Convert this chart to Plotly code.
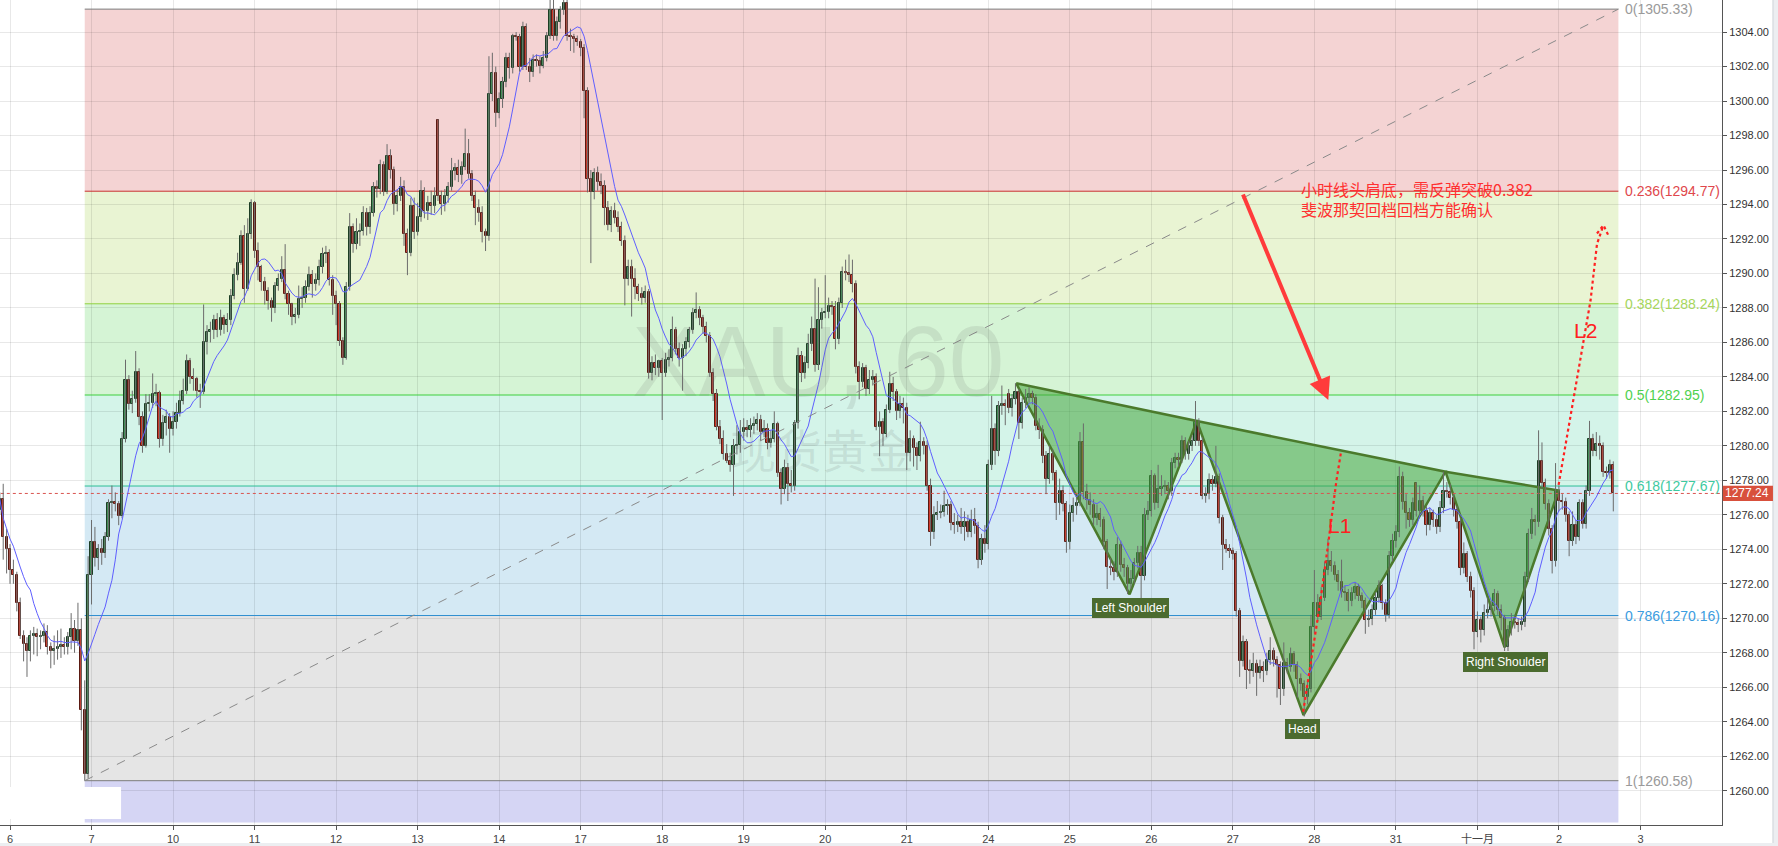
import plotly.graph_objects as go
import pandas as pd

# ---------------- data (XAU 60-minute bars) ----------------
open_ = [
1276.3, 1276.9, 1274.7, 1274.0, 1272.8, 1272.5, 1270.9, 1269.0, 1268.5, 1268.1, 1269.0, 1269.1,
1268.9, 1269.0, 1269.2, 1268.35, 1268.1, 1268.2, 1268.35, 1268.45, 1268.35, 1268.9, 1269.4, 1268.66,
1269.3, 1264.7, 1260.97, 1272.5, 1274.44, 1273.5, 1274.0, 1273.8, 1274.7, 1276.66, 1276.75, 1276.6,
1275.96, 1280.4, 1283.8, 1282.4, 1282.7, 1284.3, 1281.7, 1280.0, 1282.4, 1282.5, 1283.0, 1283.05,
1280.4, 1281.3, 1281.7, 1281.0, 1281.4, 1281.9, 1282.6, 1283.2, 1284.9, 1284.0, 1283.9, 1283.2,
1283.15, 1286.0, 1286.6, 1286.7, 1287.3, 1286.7, 1287.4, 1287.0, 1287.3, 1288.7, 1289.9, 1290.6,
1292.2, 1289.1, 1292.3, 1294.1, 1291.3, 1290.4, 1289.5, 1289.0, 1288.4, 1288.0, 1289.3, 1289.7,
1290.2, 1288.8, 1288.2, 1287.5, 1287.6, 1288.5, 1288.6, 1289.2, 1289.9, 1289.4, 1289.6, 1290.4,
1291.1, 1291.2, 1289.6, 1288.7, 1288.25, 1286.1, 1285.1, 1289.2, 1292.7, 1291.7, 1292.4, 1292.45,
1293.5, 1292.7, 1293.5, 1295.0, 1294.9, 1296.3, 1294.7, 1296.8, 1296.0, 1294.0, 1294.5, 1295.0,
1292.3, 1291.2, 1293.9, 1292.4, 1293.3, 1294.8, 1293.6, 1294.1, 1293.9, 1298.9, 1294.5, 1294.0,
1294.5, 1295.0, 1295.96, 1296.1, 1295.7, 1296.2, 1296.95, 1295.75, 1294.5, 1293.8, 1293.5, 1292.4,
1292.2, 1300.4, 1301.6, 1299.3, 1300.1, 1301.1, 1302.5, 1301.9, 1303.8, 1303.7, 1302.0, 1304.3,
1302.0, 1301.7, 1302.4, 1302.3, 1302.05, 1302.5, 1303.8, 1305.3, 1303.8, 1304.6, 1305.3, 1305.7,
1303.8, 1303.7, 1303.6, 1303.4, 1303.1, 1300.6, 1295.5, 1294.7, 1295.8, 1295.3, 1295.1, 1293.8,
1292.8, 1293.6, 1293.2, 1292.7, 1291.9, 1289.7, 1290.4, 1289.7, 1289.2, 1288.8, 1288.6, 1288.9,
1284.2, 1284.8, 1284.5, 1284.9, 1284.2, 1285.0, 1285.1, 1286.7, 1285.6, 1285.1, 1285.6, 1286.0,
1286.7, 1287.7, 1287.9, 1287.4, 1286.9, 1286.4, 1284.2, 1283.0, 1281.1, 1280.4, 1279.5, 1279.1,
1278.9, 1280.0, 1280.05, 1280.8, 1281.05, 1280.9, 1281.15, 1281.27, 1281.5, 1280.8, 1281.0, 1280.15,
1280.4, 1281.27, 1278.4, 1277.5, 1278.7, 1277.8, 1277.7, 1281.3, 1285.2, 1284.2, 1284.8, 1285.9,
1286.8, 1284.7, 1287.3, 1287.7, 1287.75, 1288.1, 1288.05, 1286.2, 1288.3, 1290.1, 1290.0, 1289.9,
1289.4, 1284.55, 1283.7, 1284.5, 1283.3, 1283.8, 1284.0, 1281.1, 1281.4, 1280.7, 1282.1, 1283.6,
1283.1, 1282.0, 1282.4, 1282.2, 1279.6, 1280.4, 1279.85, 1279.4, 1280.2, 1280.0, 1277.7, 1275.0,
1276.0, 1276.1, 1276.15, 1276.5, 1276.55, 1275.5, 1275.4, 1275.6, 1275.3, 1275.6, 1275.0, 1275.7,
1275.35, 1273.4, 1274.6, 1274.3, 1278.9, 1281.0, 1279.7, 1282.3, 1282.4, 1283.0, 1282.2, 1282.7,
1283.1, 1281.3, 1282.5, 1282.8, 1283.0, 1282.8, 1281.15, 1280.9, 1279.4, 1278.06, 1279.5, 1278.4,
1276.7, 1277.4, 1276.6, 1274.4, 1276.1, 1276.5, 1276.7, 1280.2, 1277.3, 1276.86, 1276.57, 1275.8,
1276.05, 1275.7, 1274.4, 1273.0, 1272.9, 1272.7, 1274.25, 1273.1, 1272.9, 1272.0, 1272.3, 1273.2,
1273.8, 1272.45, 1276.0, 1276.24, 1278.25, 1276.7, 1277.5, 1277.6, 1277.65, 1277.4, 1279.0, 1279.3,
1279.2, 1280.3, 1279.5, 1280.0, 1280.3, 1281.4, 1280.3, 1277.1, 1277.2, 1278.0, 1277.8, 1278.2,
1275.8, 1274.25, 1274.0, 1273.9, 1273.7, 1270.4, 1267.5, 1268.6, 1267.0, 1266.95, 1267.35, 1266.8,
1267.2, 1266.96, 1267.6, 1268.1, 1267.6, 1267.3, 1265.9, 1267.4, 1267.2, 1267.9, 1267.3, 1266.5,
1266.2, 1265.45, 1265.9, 1269.5, 1270.9, 1270.1, 1271.2, 1272.8, 1273.3, 1273.05, 1272.5, 1272.1,
1271.5, 1271.45, 1271.0, 1271.45, 1271.8, 1271.3, 1271.0, 1269.9, 1269.95, 1270.5, 1271.15, 1271.9,
1270.86, 1270.2, 1273.6, 1274.46, 1275.0, 1278.2, 1276.75, 1276.1, 1275.7, 1277.85, 1276.25, 1276.8,
1276.2, 1275.4, 1276.1, 1275.7, 1275.3, 1276.4, 1277.4, 1277.3, 1277.0, 1276.3, 1275.6, 1272.9,
1273.7, 1272.4, 1271.6, 1269.2, 1269.9, 1269.3, 1270.3, 1270.5, 1270.7, 1271.4, 1270.5, 1270.0,
1268.35, 1269.3, 1269.8, 1269.7, 1269.6, 1269.8, 1272.4, 1274.9, 1275.7, 1275.6, 1279.1, 1277.85,
1276.65, 1275.2, 1273.3, 1277.4, 1276.8, 1276.75, 1276.0, 1274.5, 1275.4, 1274.7, 1276.7, 1275.45,
1277.4, 1280.4, 1279.7, 1280.1, 1280.0, 1278.5, 1278.4, 1278.9,
]

close = [
1276.9, 1274.7, 1274.0, 1272.8, 1272.5, 1270.9, 1269.0, 1268.5, 1268.1, 1269.0, 1269.1, 1268.9,
1269.0, 1269.2, 1268.35, 1268.1, 1268.2, 1268.35, 1268.45, 1268.35, 1268.9, 1269.4, 1268.66, 1269.3,
1264.7, 1260.97, 1272.5, 1274.44, 1273.5, 1274.0, 1273.8, 1274.7, 1276.66, 1276.75, 1276.6, 1275.96,
1280.4, 1283.8, 1282.4, 1282.7, 1284.3, 1281.7, 1280.0, 1282.4, 1282.5, 1283.0, 1283.05, 1280.4,
1281.3, 1281.7, 1281.0, 1281.4, 1281.9, 1282.6, 1283.2, 1284.9, 1284.0, 1283.9, 1283.2, 1283.15,
1286.0, 1286.6, 1286.7, 1287.3, 1286.7, 1287.4, 1287.0, 1287.3, 1288.7, 1289.9, 1290.6, 1292.2,
1289.1, 1292.3, 1294.1, 1291.3, 1290.4, 1289.5, 1289.0, 1288.4, 1288.0, 1289.3, 1289.7, 1290.2,
1288.8, 1288.2, 1287.5, 1287.6, 1288.5, 1288.6, 1289.2, 1289.9, 1289.4, 1289.6, 1290.4, 1291.1,
1291.2, 1289.6, 1288.7, 1288.25, 1286.1, 1285.1, 1289.2, 1292.7, 1291.7, 1292.4, 1292.45, 1293.5,
1292.7, 1293.5, 1295.0, 1294.9, 1296.3, 1294.7, 1296.8, 1296.0, 1294.0, 1294.5, 1295.0, 1292.3,
1291.2, 1293.9, 1292.4, 1293.3, 1294.8, 1293.6, 1294.1, 1293.9, 1294.5, 1294.5, 1294.0, 1294.5,
1295.0, 1295.96, 1296.1, 1295.7, 1296.2, 1296.95, 1295.75, 1294.5, 1293.8, 1293.5, 1292.4, 1292.2,
1300.4, 1301.6, 1299.3, 1300.1, 1301.1, 1302.5, 1301.9, 1303.8, 1303.7, 1302.0, 1304.3, 1302.0,
1301.7, 1302.4, 1302.3, 1302.05, 1302.5, 1303.8, 1305.3, 1303.8, 1304.6, 1305.3, 1305.7, 1303.8,
1303.7, 1303.6, 1303.4, 1303.1, 1300.6, 1295.5, 1294.7, 1295.8, 1295.3, 1295.1, 1293.8, 1292.8,
1293.6, 1293.2, 1292.7, 1291.9, 1289.7, 1290.4, 1289.7, 1289.2, 1288.8, 1288.6, 1288.9, 1284.2,
1284.8, 1284.5, 1284.9, 1284.2, 1285.0, 1285.1, 1286.7, 1285.6, 1285.1, 1285.6, 1286.0, 1286.7,
1287.7, 1287.9, 1287.4, 1286.9, 1286.4, 1284.2, 1283.0, 1281.1, 1280.4, 1279.5, 1279.1, 1278.9,
1280.0, 1280.05, 1280.8, 1281.05, 1280.9, 1281.15, 1281.27, 1281.5, 1280.8, 1281.0, 1280.15, 1280.4,
1281.27, 1278.4, 1277.5, 1278.7, 1277.8, 1277.7, 1281.3, 1285.2, 1284.2, 1284.8, 1285.9, 1286.8,
1284.7, 1287.3, 1287.7, 1287.75, 1288.1, 1288.05, 1286.2, 1288.3, 1290.1, 1290.0, 1289.9, 1289.4,
1284.55, 1283.7, 1284.5, 1283.3, 1283.8, 1284.0, 1281.1, 1281.4, 1280.7, 1282.1, 1283.6, 1283.1,
1282.0, 1282.4, 1282.2, 1279.6, 1280.4, 1279.85, 1279.4, 1280.2, 1280.0, 1277.7, 1275.0, 1276.0,
1276.1, 1276.15, 1276.5, 1276.55, 1275.5, 1275.4, 1275.6, 1275.3, 1275.6, 1275.0, 1275.7, 1275.35,
1273.4, 1274.6, 1274.3, 1278.9, 1281.0, 1279.7, 1282.3, 1282.4, 1282.3, 1282.2, 1282.7, 1283.1,
1281.3, 1282.5, 1282.8, 1283.0, 1282.8, 1281.15, 1280.9, 1279.4, 1278.06, 1279.5, 1278.4, 1276.7,
1277.4, 1276.6, 1274.4, 1276.1, 1276.5, 1276.7, 1280.2, 1277.3, 1276.86, 1276.57, 1275.8, 1276.05,
1275.7, 1274.4, 1273.0, 1272.9, 1272.7, 1274.25, 1273.1, 1272.9, 1272.0, 1272.3, 1273.2, 1273.8,
1272.45, 1276.0, 1276.24, 1278.25, 1276.7, 1277.5, 1277.6, 1277.65, 1277.4, 1279.0, 1279.3, 1279.2,
1280.3, 1279.5, 1280.0, 1280.3, 1281.4, 1280.3, 1277.1, 1277.2, 1278.0, 1277.8, 1278.2, 1275.8,
1274.25, 1274.0, 1273.9, 1273.7, 1270.4, 1267.5, 1268.6, 1267.0, 1266.95, 1267.35, 1266.8, 1267.2,
1266.96, 1267.6, 1268.1, 1267.6, 1267.3, 1265.9, 1267.4, 1267.2, 1267.9, 1267.3, 1266.5, 1266.2,
1265.45, 1265.9, 1269.5, 1270.9, 1270.1, 1271.2, 1272.8, 1273.3, 1273.05, 1272.5, 1272.1, 1271.5,
1271.45, 1271.0, 1271.45, 1271.8, 1271.3, 1271.0, 1269.9, 1269.95, 1270.5, 1271.15, 1271.9, 1270.86,
1270.2, 1273.6, 1274.46, 1275.0, 1278.2, 1276.75, 1276.1, 1275.7, 1276.7, 1276.25, 1276.8, 1276.2,
1275.4, 1276.1, 1275.7, 1275.3, 1276.4, 1277.4, 1277.3, 1277.0, 1276.3, 1275.6, 1272.9, 1273.7,
1272.4, 1271.6, 1269.2, 1269.9, 1269.3, 1270.3, 1270.5, 1270.7, 1271.4, 1270.5, 1270.0, 1268.35,
1269.3, 1269.8, 1269.7, 1269.6, 1269.8, 1272.4, 1274.9, 1275.7, 1275.6, 1279.1, 1277.85, 1276.65,
1275.2, 1273.3, 1277.4, 1276.8, 1276.75, 1276.0, 1274.5, 1275.4, 1274.7, 1276.7, 1275.45, 1277.4,
1280.4, 1279.7, 1280.1, 1280.0, 1278.5, 1278.4, 1278.9, 1277.24,
]

high = [
1277.3, 1277.8, 1275.2, 1274.3, 1273.4, 1272.7, 1271.2, 1269.3, 1268.9, 1269.3, 1269.5, 1269.4,
1269.3, 1269.7, 1269.6, 1268.6, 1269.0, 1269.3, 1269.4, 1268.9, 1269.2, 1270.3, 1269.9, 1270.9,
1270.0, 1266.4, 1273.6, 1275.7, 1275.3, 1274.3, 1274.6, 1275.0, 1276.9, 1277.7, 1277.3, 1276.8,
1280.8, 1285.0, 1284.1, 1283.2, 1285.5, 1284.5, 1282.0, 1283.0, 1283.0, 1284.2, 1283.6, 1283.2,
1281.8, 1282.1, 1281.9, 1282.0, 1282.5, 1283.2, 1283.9, 1285.3, 1285.1, 1284.5, 1284.0, 1283.6,
1288.2, 1287.0, 1287.2, 1287.6, 1287.7, 1287.9, 1287.6, 1287.7, 1289.1, 1290.3, 1291.2, 1292.5,
1292.8, 1293.2, 1294.3, 1294.2, 1291.8, 1290.5, 1289.8, 1289.2, 1288.6, 1289.5, 1290.0, 1291.0,
1291.7, 1289.0, 1288.3, 1288.0, 1289.3, 1289.2, 1289.6, 1290.4, 1290.2, 1290.0, 1290.8, 1291.5,
1291.6, 1291.4, 1289.9, 1289.0, 1288.4, 1286.3, 1289.5, 1293.5, 1292.9, 1293.2, 1292.9, 1293.9,
1293.8, 1293.9, 1295.3, 1295.4, 1296.6, 1296.5, 1297.5, 1297.2, 1296.2, 1294.9, 1295.6, 1295.4,
1292.6, 1294.4, 1294.4, 1294.1, 1295.4, 1295.0, 1294.5, 1294.8, 1295.0, 1298.95, 1294.8, 1294.9,
1295.3, 1296.7, 1296.4, 1296.6, 1296.5, 1298.4, 1297.8, 1296.0, 1294.8, 1294.3, 1293.9, 1292.6,
1302.6, 1302.8, 1302.0, 1300.5, 1301.4, 1302.8, 1302.8, 1303.9, 1304.0, 1303.9, 1304.6, 1304.5,
1302.5, 1302.7, 1302.7, 1302.6, 1302.9, 1304.0, 1305.9, 1306.0, 1304.9, 1305.5, 1306.0, 1306.0,
1304.2, 1303.9, 1303.8, 1303.6, 1303.3, 1300.8, 1296.0, 1296.1, 1296.2, 1295.8, 1295.4, 1294.2,
1293.9, 1294.1, 1293.6, 1293.0, 1292.2, 1290.8, 1290.8, 1290.3, 1289.4, 1289.2, 1289.3, 1289.1,
1285.2, 1285.3, 1285.0, 1285.1, 1285.4, 1285.6, 1287.5, 1286.9, 1286.0, 1285.9, 1286.3, 1286.9,
1288.0, 1288.9, 1288.1, 1287.6, 1287.2, 1286.6, 1284.5, 1283.3, 1281.5, 1280.9, 1280.1, 1279.6,
1280.4, 1281.2, 1281.5, 1281.6, 1281.5, 1281.6, 1281.7, 1281.9, 1281.8, 1281.5, 1281.3, 1280.9,
1282.0, 1281.4, 1278.7, 1279.2, 1279.0, 1278.6, 1281.5, 1285.7, 1285.5, 1285.2, 1286.5, 1287.5,
1289.7, 1289.2, 1288.0, 1289.9, 1288.6, 1288.4, 1288.4, 1288.6, 1290.4, 1290.8, 1291.1, 1290.8,
1289.6, 1284.9, 1284.8, 1284.7, 1284.4, 1284.4, 1284.2, 1282.0, 1281.6, 1282.4, 1284.3, 1284.0,
1283.3, 1282.9, 1282.8, 1282.5, 1280.9, 1280.6, 1280.2, 1281.4, 1280.5, 1280.3, 1278.1, 1276.5,
1276.8, 1276.6, 1277.4, 1276.9, 1276.8, 1276.1, 1276.0, 1276.4, 1276.2, 1276.0, 1276.3, 1276.4,
1275.6, 1274.9, 1275.4, 1279.2, 1282.9, 1281.3, 1282.6, 1283.5, 1282.7, 1283.3, 1283.0, 1283.63,
1283.3, 1282.8, 1283.3, 1283.4, 1283.2, 1283.0, 1281.6, 1281.2, 1279.7, 1280.0, 1279.8, 1278.6,
1278.1, 1277.7, 1276.8, 1276.6, 1277.0, 1277.1, 1280.8, 1281.3, 1277.8, 1277.3, 1276.9, 1276.6,
1276.4, 1275.9, 1274.6, 1273.5, 1273.3, 1274.7, 1274.5, 1273.5, 1273.1, 1272.8, 1273.5, 1274.2,
1274.2, 1276.4, 1276.8, 1278.6, 1278.4, 1278.9, 1278.3, 1278.0, 1277.9, 1279.3, 1279.6, 1279.6,
1280.6, 1280.5, 1280.3, 1280.6, 1282.6, 1281.6, 1280.5, 1277.6, 1278.4, 1278.3, 1280.0, 1278.4,
1276.0, 1274.6, 1274.3, 1274.1, 1273.9, 1270.6, 1269.0, 1268.8, 1267.6, 1268.0, 1267.6, 1267.6,
1267.5, 1268.0, 1268.9, 1268.3, 1267.8, 1267.5, 1268.6, 1267.7, 1268.3, 1268.1, 1267.5, 1266.8,
1266.4, 1266.4, 1270.2, 1272.8, 1271.4, 1271.8, 1273.3, 1274.6, 1273.9, 1273.3, 1272.8, 1273.4,
1271.9, 1271.7, 1271.8, 1272.1, 1272.0, 1271.5, 1271.2, 1270.5, 1270.8, 1271.5, 1272.2, 1272.0,
1271.1, 1273.9, 1274.9, 1275.4, 1278.8, 1278.5, 1277.2, 1276.4, 1277.0, 1277.9, 1277.7, 1277.1,
1276.5, 1276.4, 1276.3, 1276.0, 1276.8, 1278.5, 1277.9, 1277.8, 1277.2, 1276.5, 1275.8, 1274.4,
1273.9, 1272.7, 1271.8, 1270.4, 1270.1, 1270.8, 1271.2, 1271.0, 1271.7, 1271.6, 1270.8, 1270.2,
1269.6, 1270.3, 1270.2, 1270.0, 1270.1, 1272.7, 1275.2, 1276.4, 1276.0, 1280.9, 1280.2, 1278.1,
1276.9, 1275.4, 1279.0, 1277.7, 1277.2, 1277.0, 1276.2, 1276.2, 1275.7, 1276.9, 1276.9, 1277.7,
1281.45, 1280.7, 1280.8, 1280.6, 1280.2, 1278.8, 1279.2, 1279.1,
]

low = [
1276.0, 1273.4, 1272.6, 1272.0, 1272.0, 1270.4, 1268.8, 1267.5, 1266.6, 1267.5, 1267.9, 1267.8,
1268.2, 1268.6, 1267.9, 1267.1, 1267.3, 1267.6, 1267.7, 1267.9, 1267.9, 1268.2, 1268.0, 1268.4,
1263.5, 1260.58, 1260.7, 1270.8, 1273.0, 1272.8, 1273.1, 1273.5, 1274.5, 1275.8, 1276.2, 1275.4,
1275.8, 1280.2, 1282.1, 1281.9, 1282.5, 1281.2, 1279.6, 1279.9, 1282.0, 1282.2, 1282.3, 1279.9,
1280.0, 1280.6, 1279.6, 1280.6, 1281.0, 1281.7, 1282.4, 1283.0, 1283.6, 1283.2, 1282.8, 1282.2,
1283.0, 1285.3, 1286.0, 1286.2, 1286.3, 1286.4, 1286.5, 1286.6, 1287.0, 1288.5, 1289.6, 1290.5,
1288.3, 1289.0, 1292.0, 1290.9, 1289.6, 1289.0, 1288.2, 1287.9, 1287.2, 1287.7, 1289.0, 1289.5,
1288.5, 1287.6, 1287.0, 1287.1, 1287.4, 1288.0, 1288.3, 1289.0, 1288.6, 1289.0, 1289.3, 1290.0,
1290.6, 1289.3, 1287.6, 1287.0, 1285.8, 1284.7, 1285.0, 1289.0, 1291.2, 1291.4, 1291.6, 1292.2,
1292.2, 1292.3, 1293.3, 1294.4, 1294.6, 1294.5, 1294.6, 1295.5, 1293.4, 1293.6, 1294.2, 1291.6,
1289.9, 1291.0, 1292.0, 1292.2, 1293.0, 1293.2, 1293.1, 1293.4, 1293.5, 1294.2, 1293.4, 1293.6,
1294.1, 1294.8, 1295.4, 1295.3, 1295.2, 1296.0, 1295.5, 1294.2, 1292.8, 1293.0, 1291.8, 1291.3,
1291.9, 1300.0, 1298.5, 1299.0, 1299.6, 1300.8, 1301.3, 1301.6, 1303.5, 1301.7, 1301.8, 1301.8,
1301.1, 1301.4, 1302.0, 1301.6, 1301.9, 1302.3, 1303.6, 1303.5, 1303.5, 1304.2, 1305.0, 1303.5,
1302.9, 1302.8, 1303.2, 1302.6, 1299.0, 1294.7, 1290.6, 1294.3, 1294.8, 1294.6, 1292.8, 1292.5,
1292.4, 1292.9, 1292.4, 1291.6, 1288.15, 1289.3, 1287.5, 1288.5, 1288.4, 1288.2, 1288.3, 1283.9,
1283.8, 1284.1, 1284.0, 1281.5, 1284.0, 1284.6, 1284.9, 1285.3, 1284.6, 1283.2, 1285.2, 1285.7,
1286.5, 1287.4, 1287.0, 1286.5, 1286.0, 1284.0, 1282.6, 1280.9, 1280.1, 1279.2, 1279.0, 1278.5,
1277.1, 1279.5, 1279.6, 1280.3, 1280.5, 1280.5, 1280.7, 1280.9, 1280.3, 1280.5, 1279.8, 1279.9,
1280.2, 1278.2, 1276.6, 1277.2, 1276.8, 1277.3, 1277.4, 1281.0, 1283.7, 1283.9, 1284.5, 1285.5,
1284.3, 1284.4, 1286.8, 1287.4, 1287.4, 1287.6, 1285.6, 1285.9, 1288.0, 1289.6, 1289.5, 1288.9,
1284.2, 1282.7, 1283.4, 1282.9, 1283.0, 1283.5, 1280.9, 1279.4, 1280.0, 1280.5, 1281.9, 1282.6,
1281.5, 1281.6, 1281.3, 1278.6, 1279.1, 1278.8, 1278.6, 1279.1, 1279.5, 1277.4, 1274.2, 1274.6,
1275.7, 1275.8, 1275.9, 1276.0, 1275.1, 1274.9, 1275.0, 1274.9, 1274.5, 1274.7, 1274.7, 1274.9,
1272.9, 1273.1, 1273.8, 1274.0, 1278.6, 1278.9, 1279.4, 1281.8, 1281.2, 1281.9, 1281.7, 1282.4,
1280.4, 1281.0, 1282.2, 1282.5, 1282.4, 1280.9, 1280.4, 1279.0, 1277.2, 1277.8, 1278.0, 1275.7,
1276.0, 1276.2, 1273.8, 1274.0, 1275.6, 1276.0, 1276.5, 1276.9, 1276.3, 1276.0, 1275.4, 1275.4,
1275.3, 1274.0, 1271.7, 1272.5, 1272.2, 1272.4, 1272.7, 1272.4, 1271.4, 1271.7, 1272.0, 1272.9,
1271.06, 1272.2, 1275.7, 1275.9, 1276.3, 1276.4, 1277.1, 1277.2, 1276.9, 1277.1, 1278.7, 1278.8,
1279.0, 1279.2, 1279.2, 1279.7, 1280.0, 1280.0, 1276.9, 1276.7, 1276.9, 1277.4, 1277.6, 1275.5,
1272.8, 1273.8, 1273.5, 1273.4, 1270.1, 1266.6, 1267.2, 1265.9, 1266.2, 1266.6, 1265.5, 1266.5,
1266.3, 1266.7, 1267.3, 1267.2, 1265.4, 1264.97, 1265.5, 1266.8, 1266.9, 1266.9, 1265.4, 1265.8,
1264.3, 1265.0, 1265.7, 1269.1, 1269.8, 1269.9, 1271.0, 1272.5, 1272.7, 1272.2, 1271.6, 1271.2,
1271.0, 1270.4, 1270.7, 1271.1, 1271.0, 1270.6, 1269.1, 1269.5, 1269.6, 1270.2, 1270.9, 1270.5,
1269.8, 1270.0, 1273.3, 1274.1, 1274.7, 1276.3, 1275.2, 1275.3, 1275.4, 1275.9, 1276.0, 1275.9,
1274.8, 1275.1, 1275.3, 1274.9, 1275.0, 1276.1, 1277.0, 1276.6, 1275.9, 1275.2, 1272.5, 1272.6,
1272.1, 1271.2, 1268.2, 1268.9, 1268.6, 1269.0, 1270.0, 1270.1, 1270.4, 1270.2, 1269.3, 1268.1,
1268.1, 1269.0, 1269.4, 1269.2, 1269.3, 1269.5, 1272.1, 1274.6, 1274.8, 1275.3, 1277.5, 1276.3,
1274.8, 1272.6, 1273.0, 1276.2, 1276.3, 1275.6, 1273.6, 1274.2, 1274.3, 1274.5, 1275.2, 1275.2,
1277.1, 1279.4, 1279.4, 1279.2, 1278.2, 1278.1, 1278.1, 1276.2,
]

assert len(open_) == len(close) == len(high) == len(low), (len(open_), len(close), len(high), len(low))

day_labels = ["6", "7", "10", "11", "12", "13", "14", "17", "18", "19", "20", "21",
              "24", "25", "26", "27", "28", "31", "十一月", "2", "3"]
BARS_PER_DAY = 24
FIRST_DAY_BAR = 3

fib_ratios = ["0", "0.236", "0.382", "0.5", "0.618", "0.786", "1"]
fib_prices = [1305.33, 1294.77, 1288.24, 1282.95, 1277.67, 1270.16, 1260.58]
fib_ext_price = 1258.15
fib_line_colors = ["#7a7a7a", "#c8302e", "#8fd03c", "#3ccf3c", "#2dbf96", "#2e8fd0", "#7a7a7a"]
fib_text_colors = ["#9a9a9a", "#e0474c", "#a6d65c", "#4fd14f", "#3dc9a0", "#3b9ce0", "#9a9a9a"]
fib_zone_colors = ["#f4d3d3", "#e9f4d3", "#d5f4d5", "#d4f4e9", "#d4e9f4", "#e5e5e5", "#d5d5f4"]
fib_start_bar = 25
fib_end_bar = 476.5
last_price = 1277.24
MA_PERIOD = 10

# drawings (head & shoulders, trend lines)
hs_left = ([299.2, 332.6, 352.4], [1283.63, 1271.39, 1281.44])
hs_head = ([352.4, 383.8, 425.6], [1281.44, 1264.39, 1278.5])
hs_right = ([425.6, 443.0, 458.9], [1278.5, 1268.31, 1277.41])
l1_x = [383.7, 388.8, 391.2, 393.5, 394.8]
l1_y = [1264.58, 1271.04, 1274.52, 1278.0, 1279.59]
l2_x = [458.9, 463.3, 466.3, 468.3, 470.2, 472.1]
l2_y = [1277.74, 1282.76, 1286.26, 1288.43, 1291.71, 1292.8]
l2_head_x = [470.2, 472.1, 473.6]
l2_head_y = [1292.32, 1292.8, 1292.19]

# ---------------- figure ----------------
n = len(close)
idx = list(range(n))
fig = go.Figure()

# head & shoulders polygons (below candles)
for xs, ys in (hs_left, hs_head, hs_right):
    fig.add_trace(go.Scatter(x=xs + [xs[0]], y=ys + [ys[0]], mode="lines", fill="toself",
                             fillcolor="rgba(70,165,60,0.55)",
                             line=dict(color="#4b7a2c", width=2.5), hoverinfo="skip"))

# last price dotted line
fig.add_trace(go.Scatter(x=[-5, 520], y=[last_price, last_price], mode="lines",
                         line=dict(color="#d9534f", width=1, dash="dot"), hoverinfo="skip"))

# wicks
wx, wy = [], []
for i in idx:
    lo = min(low[i], open_[i], close[i])
    hi = max(high[i], open_[i], close[i])
    wx += [i, i, None]
    wy += [lo, hi, None]
fig.add_trace(go.Scatter(x=wx, y=wy, mode="lines", line=dict(color="#6b6b6b", width=1),
                         hoverinfo="skip"))

# bodies
up_x, up_b, up_h, dn_x, dn_b, dn_h = [], [], [], [], [], []
for i in idx:
    b = min(open_[i], close[i])
    h = max(abs(close[i] - open_[i]), 0.06)
    if close[i] >= open_[i]:
        up_x.append(i); up_b.append(b); up_h.append(h)
    else:
        dn_x.append(i); dn_b.append(b); dn_h.append(h)
fig.add_trace(go.Bar(x=up_x, y=up_h, base=up_b, width=0.62,
                     marker=dict(color="#45905a", line=dict(color="#1d3d24", width=1)),
                     hoverinfo="skip"))
fig.add_trace(go.Bar(x=dn_x, y=dn_h, base=dn_b, width=0.62,
                     marker=dict(color="#cf3a2c", line=dict(color="#5a1a12", width=1)),
                     hoverinfo="skip"))

# moving average
ma = pd.Series(close).rolling(MA_PERIOD, min_periods=1).mean()
fig.add_trace(go.Scatter(x=idx, y=ma, mode="lines", line=dict(color="#5f5fff", width=1),
                         hoverinfo="skip"))

# fib diagonal
fig.add_trace(go.Scatter(x=[fib_start_bar, fib_end_bar], y=[fib_prices[-1], fib_prices[0]],
                         mode="lines", line=dict(color="#8a8a8a", width=1, dash="dash"),
                         hoverinfo="skip"))

# L1 / L2 projections
for xs, ys in ((l1_x, l1_y), (l2_x, l2_y), (l2_head_x, l2_head_y)):
    fig.add_trace(go.Scatter(x=xs, y=ys, mode="lines",
                             line=dict(color="#ff2020", width=2.2, dash="dot"), hoverinfo="skip"))

shapes = []
# fib zones
levels = fib_prices + [fib_ext_price]
for k in range(len(levels) - 1):
    shapes.append(dict(type="rect", xref="x", yref="y", x0=fib_start_bar, x1=fib_end_bar,
                       y0=levels[k + 1], y1=levels[k], fillcolor=fib_zone_colors[k],
                       line=dict(width=0), layer="below"))
for k, p in enumerate(fib_prices):
    shapes.append(dict(type="line", xref="x", yref="y", x0=fib_start_bar, x1=fib_end_bar,
                       y0=p, y1=p, line=dict(color=fib_line_colors[k], width=1), layer="between"))
# white box bottom-left
shapes.append(dict(type="rect", xref="paper", yref="y", x0=0, x1=0.0703, y0=1258.36, y1=1260.21,
                   fillcolor="white", line=dict(width=0), layer="above"))
# price tag on axis
shapes.append(dict(type="rect", xref="paper", yref="y", x0=1.0005, x1=1.0296,
                   y0=last_price - 0.44, y1=last_price + 0.44, fillcolor="#d8503c",
                   line=dict(width=0), layer="above"))
# frame strips (in the margins)
shapes.append(dict(type="rect", xref="paper", yref="paper", x0=1.0297, x1=1.04, y0=-0.03, y1=1.01,
                   fillcolor="#eceef1", line=dict(width=0), layer="below"))
shapes.append(dict(type="line", xref="paper", yref="paper", x0=1.0296, x1=1.0296, y0=-0.026, y1=1.01,
                   line=dict(color="#cdd1d6", width=1), layer="below"))
shapes.append(dict(type="rect", xref="paper", yref="paper", x0=0, x1=1.04, y0=-0.03, y1=-0.0218,
                   fillcolor="#eceef1", line=dict(width=0), layer="below"))

annotations = []
# watermark
annotations.append(dict(x=240.9, y=1284.9, xref="x", yref="y", text="XAU, 60", showarrow=False,
                        font=dict(family="Liberation Sans", size=100, color="rgba(90,90,90,0.13)")))
annotations.append(dict(x=242.1, y=1279.9, xref="x", yref="y", text="现货黄金", showarrow=False,
                        font=dict(family="Noto Sans CJK SC", size=46, color="rgba(90,90,90,0.13)")))
# fib labels
for k, p in enumerate(fib_prices):
    annotations.append(dict(x=478, y=p, xref="x", yref="y", xanchor="left", yanchor="middle",
                            text=f"{fib_ratios[k]}({p:.2f})", showarrow=False,
                            font=dict(family="Liberation Sans", size=14, color=fib_text_colors[k])))
# price tag text
annotations.append(dict(x=1.0148, y=last_price, xref="paper", yref="y", text=f"{last_price:.2f}",
                        showarrow=False, xanchor="center", yanchor="middle",
                        font=dict(family="Liberation Sans", size=12, color="white")))
# comment text
annotations.append(dict(x=382.4, y=1294.9, xref="x", yref="y", xanchor="left", yanchor="middle",
                        text="小时线头肩底，需反弹突破0.382", showarrow=False,
                        font=dict(family="Noto Sans CJK SC", size=16, color="#ff3030")))
annotations.append(dict(x=382.4, y=1293.74, xref="x", yref="y", xanchor="left", yanchor="middle",
                        text="斐波那契回档回档方能确认", showarrow=False,
                        font=dict(family="Noto Sans CJK SC", size=16, color="#ff3030")))
# red arrow
annotations.append(dict(x=391.1, y=1282.66, ax=365.8, ay=1294.66, xref="x", yref="y",
                        axref="x", ayref="y", text="", showarrow=True, arrowhead=2,
                        arrowsize=1.1, arrowwidth=4, arrowcolor="#ff3b3b"))
# L1 / L2 labels
annotations.append(dict(x=394.5, y=1275.38, xref="x", yref="y", text="L1", showarrow=False,
                        font=dict(family="Liberation Sans", size=21, color="#ff2020")))
annotations.append(dict(x=466.8, y=1286.69, xref="x", yref="y", text="L2", showarrow=False,
                        font=dict(family="Liberation Sans", size=21, color="#ff2020")))
# pattern labels
for txt, x, y in (("Left Shoulder", 332.8, 1270.62), ("Head", 383.5, 1263.56),
                  ("Right Shoulder", 443.2, 1267.48)):
    annotations.append(dict(x=x, y=y, xref="x", yref="y", text=txt, showarrow=False,
                            bgcolor="#4b6b2f", bordercolor="#4b6b2f", borderpad=2,
                            font=dict(family="Liberation Sans", size=12, color="white")))

tickvals = [FIRST_DAY_BAR + BARS_PER_DAY * k for k in range(len(day_labels))]
grid_col = "rgba(0,0,0,0.09)"

fig.update_layout(
    width=1778, height=846,
    margin=dict(l=0, r=56, t=0, b=21, autoexpand=False),
    paper_bgcolor="white", plot_bgcolor="white",
    showlegend=False, barmode="overlay", bargap=0,
    shapes=shapes, annotations=annotations,
    xaxis=dict(range=[0.055, 507.0], tickvals=tickvals, ticktext=day_labels,
               showgrid=True, gridcolor=grid_col, gridwidth=1, zeroline=False,
               showline=True, linecolor="#555555", linewidth=1, automargin=False,
               ticks="outside", ticklen=4, tickcolor="#555555",
               tickfont=dict(family="Liberation Sans, Noto Sans CJK SC", size=11, color="#444444")),
    yaxis=dict(range=[1258.01, 1305.86], side="right", tick0=1260, dtick=2, tickformat=".2f",
               showgrid=True, gridcolor=grid_col, gridwidth=1, zeroline=False,
               showline=True, linecolor="#555555", linewidth=1, automargin=False,
               ticks="outside", ticklen=4, tickcolor="#555555",
               tickfont=dict(family="Liberation Sans", size=11, color="#333333")),
)

fig.write_html("out.html", config={"displayModeBar": False},
               post_script="document.body.style.margin='0';document.body.style.overflow='hidden';")
